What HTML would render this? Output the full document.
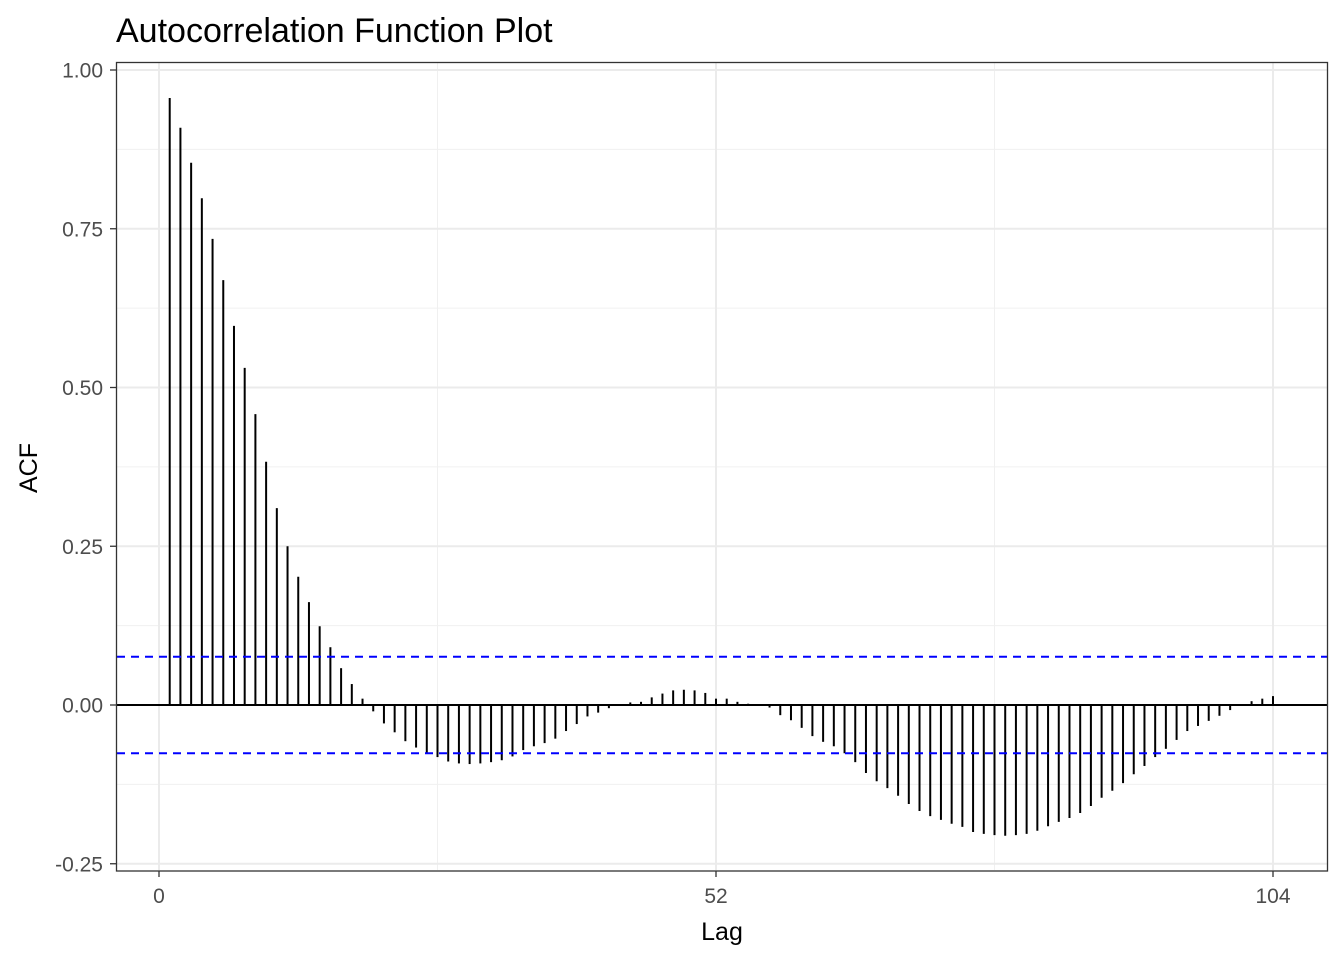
<!DOCTYPE html>
<html><head><meta charset="utf-8"><style>
body{margin:0;background:#fff;}
svg{display:block;font-family:"Liberation Sans",Arial,sans-serif;}
</style></head><body>
<svg id="chart" width="1344" height="960">
<rect width="1344" height="960" fill="#fff"/>
<text x="116" y="42" font-size="34" fill="#000">Autocorrelation Function Plot</text>
<g id="grid"></g>
<g id="bars"></g>
<g id="conf"></g>
<rect x="116.5" y="62.5" width="1211" height="808.5" fill="none" stroke="#333" stroke-width="1.3"/>
<g id="axes"></g>
<text x="722" y="940" font-size="25" text-anchor="middle" fill="#000">Lag</text>
<text transform="translate(37,468) rotate(-90)" font-size="25" text-anchor="middle" fill="#000">ACF</text>
</svg>
<script>
const lags = [];
for (let i = 1; i <= 104; i++) lags.push(i);
const acfValues = [0.956,0.909,0.854,0.798,0.734,0.669,0.597,0.531,0.458,0.383,0.310,0.250,0.202,0.162,0.124,0.091,0.058,0.033,0.010,
-0.010,-0.029,-0.043,-0.057,-0.067,-0.076,-0.082,-0.089,-0.092,-0.093,-0.092,-0.090,-0.087,-0.081,-0.071,-0.065,-0.060,-0.053,-0.041,-0.030,-0.018,-0.012,-0.005,0.000,
0.004,0.005,0.012,0.018,0.023,0.024,0.023,0.019,0.010,0.010,0.005,0.002,0.000,
-0.004,-0.016,-0.024,-0.036,-0.049,-0.058,-0.065,-0.076,-0.090,-0.107,-0.120,-0.131,-0.143,-0.156,-0.167,-0.175,-0.181,-0.187,-0.192,-0.200,-0.203,-0.205,-0.206,-0.205,-0.203,-0.198,-0.191,-0.184,-0.178,-0.170,-0.159,-0.146,-0.135,-0.123,-0.109,-0.096,-0.082,-0.069,-0.055,-0.041,-0.033,-0.025,-0.017,-0.008,0.000,0.006,0.010,0.014];
const confBound = [0.076];
const xTicks = [0, 52, 104];
const xMinor = [26, 78];
const yTicks = [-0.25, 0, 0.25, 0.5, 0.75, 1.0];
const yTickLabels = ["-0.25", "0.00", "0.25", "0.50", "0.75", "1.00"];
const yMinor = [-0.125, 0.125, 0.375, 0.625, 0.875];

const NS = "http://www.w3.org/2000/svg";
const X = v => 159 + v * (1273 - 159) / 104;
const Y = v => 705 - v * 635;
function mk(parent, tag, attrs) {
  const e = document.createElementNS(NS, tag);
  for (const k in attrs) e.setAttribute(k, attrs[k]);
  document.getElementById(parent).appendChild(e);
  return e;
}
yMinor.forEach(v => {
  const l = mk('grid', 'line', {x1:117, x2:1327, y1:Y(v), y2:Y(v), stroke:'#f0f0f0', 'stroke-width':1});
  
  
});
xMinor.forEach(v => {
  const l = mk('grid', 'line', {x1:X(v), x2:X(v), y1:63, y2:870, stroke:'#f0f0f0', 'stroke-width':1});
  
  
});
yTicks.forEach(v => {
  const l = mk('grid', 'line', {x1:117, x2:1327, y1:Y(v), y2:Y(v), stroke:'#ebebeb', 'stroke-width':2});
  
  
});
xTicks.forEach(v => {
  const l = mk('grid', 'line', {x1:X(v), x2:X(v), y1:63, y2:870, stroke:'#ebebeb', 'stroke-width':2});
  
  
});
lags.forEach((lag, i) => {
  const l = mk('bars', 'line', {x1:X(lag), x2:X(lag), y1:Y(0), y2:Y(acfValues[i]), stroke:'#000', 'stroke-width':2});
  
  
});
const zl = mk('bars', 'line', {x1:117, x2:1327, y1:Y(0), y2:Y(0), stroke:'#000', 'stroke-width':2});


[confBound[0], -confBound[0]].forEach(v => {
  const l = mk('conf', 'line', {x1:117, x2:1327, y1:Y(v), y2:Y(v), stroke:'#0000ff', 'stroke-width':2, 'stroke-dasharray':'8,6'});
  
  
});
yTicks.forEach((v, i) => {
  const t = mk('axes', 'line', {x1:110, x2:116, y1:Y(v), y2:Y(v), stroke:'#333', 'stroke-width':1.3});
  
  
  const tx = mk('axes', 'text', {x:103, y:Y(v) + 7.5, 'font-size':21, fill:'#4d4d4d', 'text-anchor':'end'});
  tx.textContent = yTickLabels[i];
  
  
});
xTicks.forEach(v => {
  const t = mk('axes', 'line', {x1:X(v), x2:X(v), y1:871, y2:877, stroke:'#333', 'stroke-width':1.3});
  
  
  const tx = mk('axes', 'text', {x:X(v), y:903, 'font-size':21, fill:'#4d4d4d', 'text-anchor':'middle'});
  tx.textContent = String(v);
  
  
});
</script>
</body></html>
